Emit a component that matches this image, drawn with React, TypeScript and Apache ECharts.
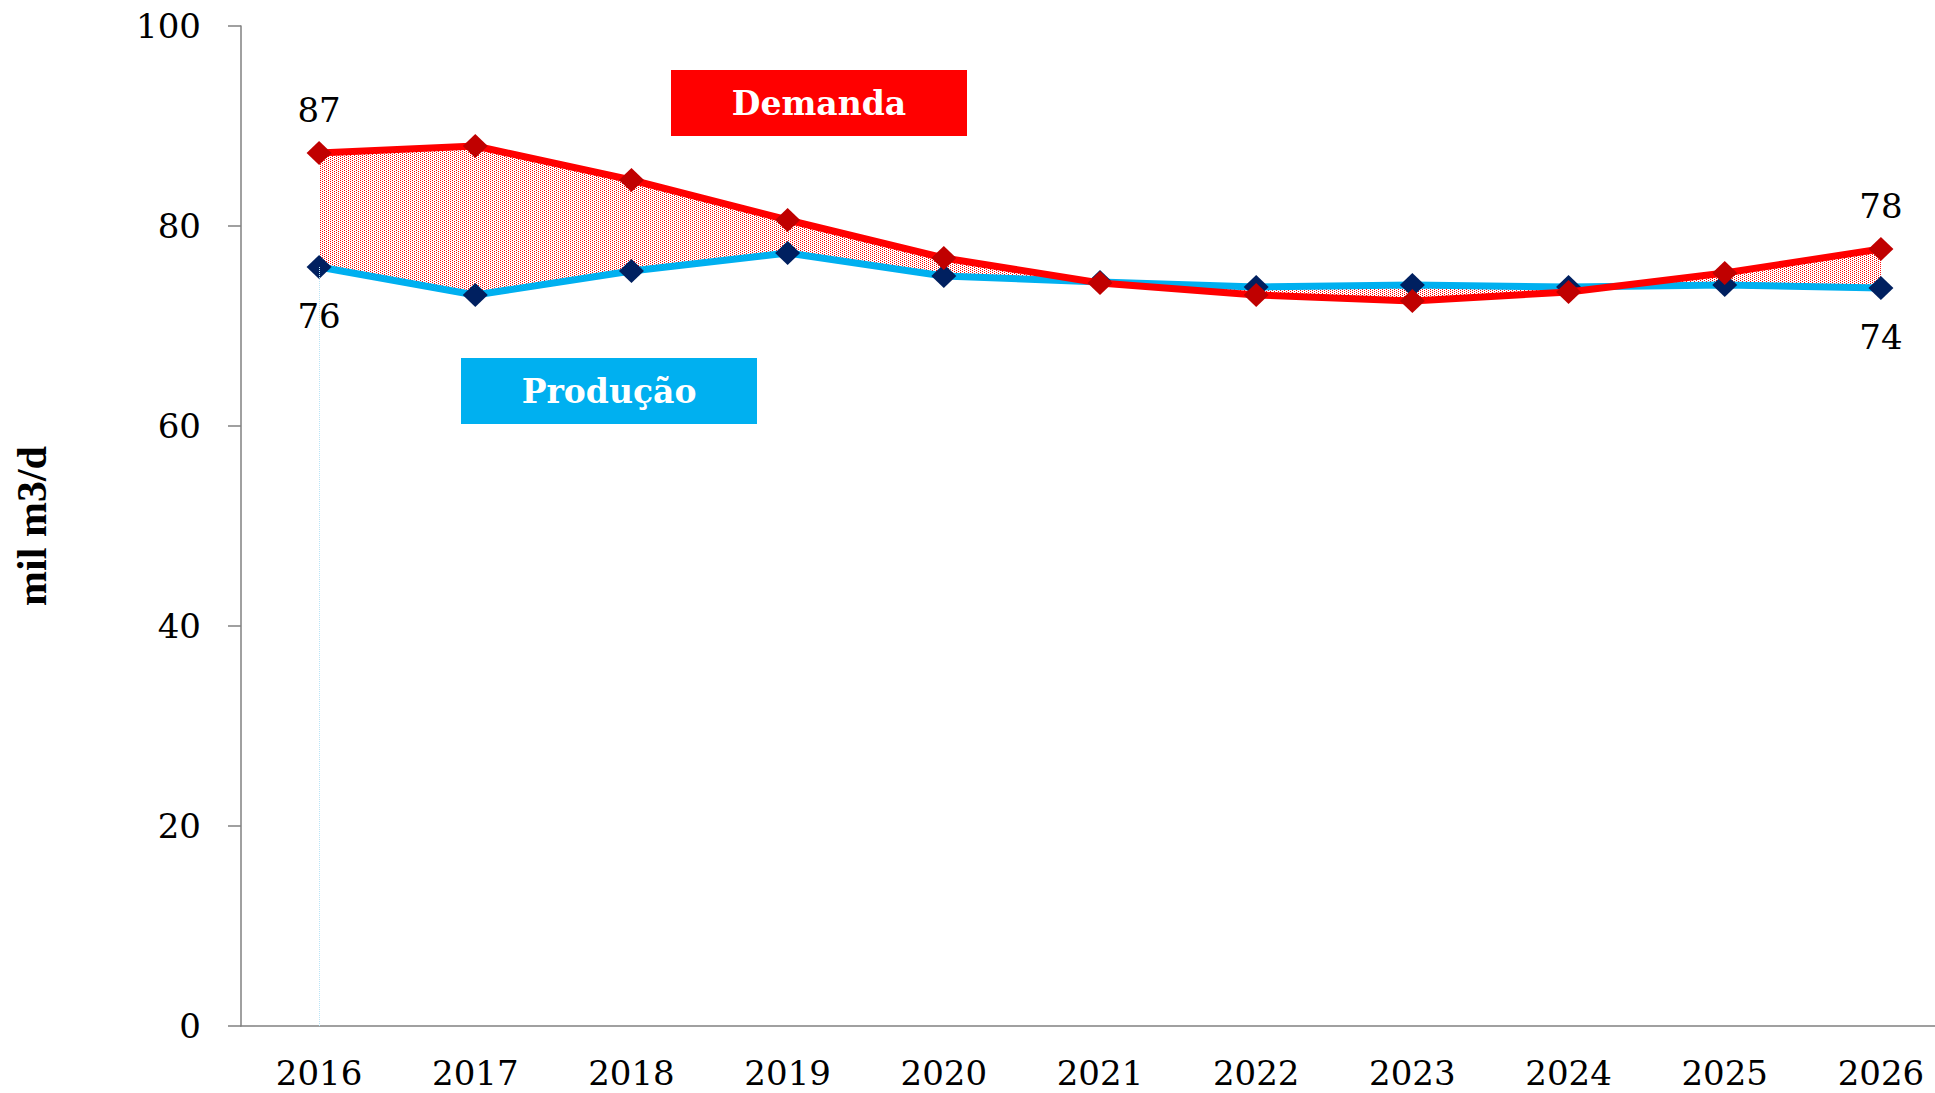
import React, { useEffect, useRef } from "react";
import * as echarts from "echarts";

const years = ["2016", "2017", "2018", "2019", "2020", "2021", "2022", "2023", "2024", "2025", "2026"];
const demanda = [87.3, 88.0, 84.6, 80.6, 76.8, 74.3, 73.1, 72.5, 73.4, 75.3, 77.7];
const producao = [75.9, 73.1, 75.5, 77.3, 75.0, 74.4, 73.9, 74.1, 73.9, 74.1, 73.8];
const yTicks = { min: 0, max: 100, interval: 20 };
const legendNames = { demanda: "Demanda", producao: "Produção" };
const yTitle = "mil m3/d";

const SERIF = "'DejaVu Serif', 'Liberation Serif', serif";

export default function App() {
  const ref = useRef<HTMLDivElement>(null);
  useEffect(() => {
    if (!ref.current) return;
    const chart = echarts.init(ref.current, null, { renderer: "svg" });

    const c = document.createElement("canvas");
    c.width = 4;
    c.height = 2;
    const ctx = c.getContext("2d")!;
    ctx.fillStyle = "#FF0000";
    ctx.fillRect(0, 0, 1, 1);
    ctx.fillRect(2, 1, 1, 1);

    const gap = demanda.map((d, i) => +(d - producao[i]).toFixed(2));
    const last = years.length - 1;

    const mkData = (arr: number[], dist: number, pos: string) =>
      arr.map((v, i) =>
        i === 0 || i === last
          ? { value: v, label: { show: true, position: pos, distance: dist } }
          : { value: v }
      );

    const labelStyle = {
      show: false,
      fontFamily: SERIF,
      fontSize: 34,
      color: "#000",
      formatter: (p: any) => String(Math.round(p.value)),
    };

    chart.setOption({
      animation: false,
      backgroundColor: "#fff",
      grid: { left: 241, top: 26, width: 1718, bottom: 67, containLabel: false },
      xAxis: {
        type: "category",
        data: years,
        boundaryGap: true,
        axisLine: { show: true, lineStyle: { color: "#808080", width: 1.5 } },
        axisTick: { show: false },
        axisLabel: { margin: 30, fontFamily: SERIF, fontSize: 34, lineHeight: 34, color: "#000" },
        splitLine: { show: false },
      },
      yAxis: {
        type: "value",
        min: yTicks.min,
        max: yTicks.max,
        interval: yTicks.interval,
        name: yTitle,
        nameLocation: "middle",
        nameRotate: 90,
        nameGap: 188,
        nameTextStyle: {
          fontFamily: "'Liberation Serif', serif",
          fontWeight: "bold",
          fontSize: 42,
          color: "#000",
        },
        axisLine: { show: true, lineStyle: { color: "#808080", width: 1.5 } },
        axisTick: { show: true, length: 13, lineStyle: { color: "#808080", width: 1.5 } },
        axisLabel: { margin: 40, fontFamily: SERIF, fontSize: 34, color: "#000" },
        splitLine: { show: false },
      },
      series: [
        {
          name: legendNames.producao,
          type: "line",
          stack: "gap",
          stackStrategy: "all",
          z: 3,
          data: mkData(producao, 20, "bottom"),
          symbol: "diamond",
          symbolSize: [25, 24],
          lineStyle: { color: "#00B0F0", width: 7 },
          itemStyle: { color: "#002060" },
          label: labelStyle,
          markLine: {
            silent: true,
            symbol: "none",
            label: { show: false },
            lineStyle: { color: "#B9E4F6", type: "dotted", width: 1 },
            data: [[{ coord: [0, producao[0]] }, { coord: [0, yTicks.min] }]],
          },
        },
        {
          name: "gap",
          type: "line",
          stack: "gap",
          stackStrategy: "all",
          z: 1,
          data: gap,
          symbol: "none",
          lineStyle: { opacity: 0, width: 0 },
          areaStyle: {
            color: { image: c, repeat: "repeat", imageWidth: 4, imageHeight: 2 },
            opacity: 1,
          },
          silent: true,
        },
        {
          name: legendNames.demanda,
          type: "line",
          z: 4,
          data: mkData(demanda, 14, "top"),
          symbol: "diamond",
          symbolSize: [25, 24],
          lineStyle: { color: "#FF0000", width: 7 },
          itemStyle: { color: "#C00000" },
          label: labelStyle,
        },
      ],
      graphic: [
        {
          type: "group",
          left: 671,
          top: 70,
          children: [
            { type: "rect", shape: { x: 0, y: 0, width: 296, height: 66 }, style: { fill: "#FF0000" } },
            {
              type: "text",
              x: 148,
              y: 33,
              style: {
                text: legendNames.demanda,
                fill: "#fff",
                font: `bold 33px ${SERIF}`,
                align: "center",
                verticalAlign: "middle",
              },
            },
          ],
        },
        {
          type: "group",
          left: 461,
          top: 358,
          children: [
            { type: "rect", shape: { x: 0, y: 0, width: 296, height: 66 }, style: { fill: "#00B0F0" } },
            {
              type: "text",
              x: 148,
              y: 33,
              style: {
                text: legendNames.producao,
                fill: "#fff",
                font: `bold 33px ${SERIF}`,
                align: "center",
                verticalAlign: "middle",
              },
            },
          ],
        },
      ],
    });
    return () => chart.dispose();
  }, []);
  return (
    <div
      ref={ref}
      style={{ position: "fixed", left: 0, top: 0, width: 1960, height: 1093, background: "#fff" }}
    />
  );
}
